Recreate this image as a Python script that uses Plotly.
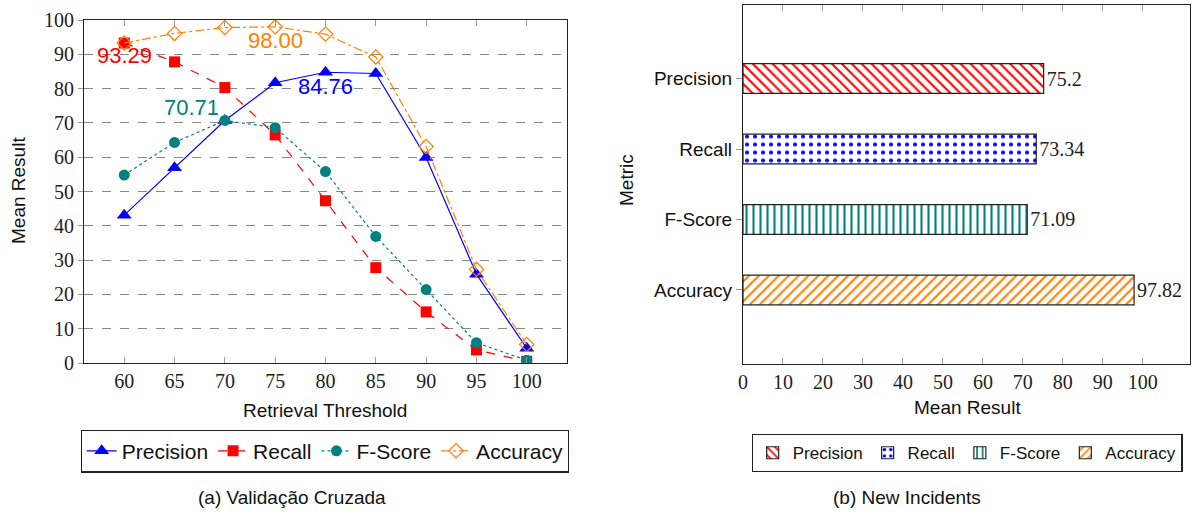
import plotly.graph_objects as go

# ---------------- data ----------------
thresholds = [60, 65, 70, 75, 80, 85, 90, 95, 100]
precision = [43.1, 56.9, 70.71, 81.7, 84.76, 84.4, 59.9, 25.9, 4.3]
recall = [93.29, 87.8, 80.3, 66.5, 47.3, 27.8, 14.9, 3.8, 0.5]
fscore = [54.8, 64.3, 70.71, 68.6, 55.8, 36.9, 21.4, 5.9, 0.8]
accuracy = [93.3, 96.1, 97.8, 98.00, 95.9, 89.2, 63.1, 27.3, 5.4]

metrics = ["Precision", "Recall", "F-Score", "Accuracy"]
new_incidents = [75.2, 73.34, 71.09, 97.82]
new_incidents_text = ["75.2", "73.34", "71.09", "97.82"]

x_ticks = [60, 65, 70, 75, 80, 85, 90, 95, 100]
y_ticks = [0, 10, 20, 30, 40, 50, 60, 70, 80, 90, 100]
bar_ticks = [0, 10, 20, 30, 40, 50, 60, 70, 80, 90, 100]

# ---------------- styles ----------------
BLUE = "#0000ff"
RED = "#ff0000"
TEAL = "#008080"
ORANGE = "#ff8000"
SANS = "Liberation Sans"
SERIF = "Liberation Serif"

W, H = 1192, 516


def px(x):
    return x / W


def py(y):
    return 1 - y / H


fig = go.Figure()

# ---- left: line chart ----
fig.add_trace(go.Scatter(
    x=thresholds, y=precision, name="Precision", mode="lines+markers",
    line=dict(color=BLUE, width=1.2, dash="solid"),
    marker=dict(symbol="triangle-up", size=13, color=BLUE),
    xaxis="x", yaxis="y", legend="legend"))
fig.add_trace(go.Scatter(
    x=thresholds, y=recall, name="Recall", mode="lines+markers",
    line=dict(color=RED, width=1.2, dash="dash"),
    marker=dict(symbol="square", size=11, color=RED),
    xaxis="x", yaxis="y", legend="legend"))
fig.add_trace(go.Scatter(
    x=thresholds, y=fscore, name="F-Score", mode="lines+markers",
    line=dict(color=TEAL, width=1.2, dash="dot"),
    marker=dict(symbol="circle", size=11, color=TEAL),
    xaxis="x", yaxis="y", legend="legend"))
fig.add_trace(go.Scatter(
    x=thresholds, y=accuracy, name="Accuracy", mode="lines+markers",
    line=dict(color=ORANGE, width=1.2, dash="dashdot"),
    marker=dict(symbol="diamond-open", size=11, color=ORANGE, line=dict(width=1.2)),
    xaxis="x", yaxis="y", legend="legend"))

# ---- right: bar chart ----
bar_colors = [RED, BLUE, TEAL, ORANGE]
bar_shapes = ["\\", ".", "|", "/"]
for m, v, t, c, s in zip(metrics, new_incidents, new_incidents_text, bar_colors, bar_shapes):
    fig.add_trace(go.Bar(
        y=[m], x=[v], orientation="h", name=m, width=0.42,
        text=[t], textposition="outside", cliponaxis=False,
        textfont=dict(family=SERIF, size=20, color="#222"),
        marker=dict(color="white", opacity=1, line=dict(color="#222", width=1.2),
                    pattern=dict(shape=s, fgcolor=c, fgopacity=1, bgcolor="white",
                                 size=7 if s != "." else 8,
                                 solidity=0.3 if s != "." else 0.22, fillmode="overlay")),
        xaxis="x2", yaxis="y2", legend="legend2"))

tickfont_serif = dict(family=SERIF, size=20, color="#222")

fig.update_layout(
    width=W, height=H,
    margin=dict(l=0, r=0, t=0, b=0, pad=0, autoexpand=False),
    paper_bgcolor="white", plot_bgcolor="white",
    barmode="overlay",
    showlegend=True,
    xaxis=dict(domain=[px(84), px(567)], range=[56, 104], tickvals=x_ticks,
               ticks="inside", ticklen=6, tickcolor="#999", showline=True, linecolor="#222",
               linewidth=1.2, mirror="ticks", showgrid=False, zeroline=False,
               tickfont=tickfont_serif, anchor="y", automargin=False),
    yaxis=dict(domain=[py(363), py(20)], range=[0, 100], tickvals=y_ticks,
               ticks="outside", ticklen=5, tickcolor="#999", showline=True, linecolor="#222",
               linewidth=1.2, mirror=True, showgrid=True, gridcolor="#888", griddash="dash",
               gridwidth=1, zeroline=False, tickfont=tickfont_serif, anchor="x",
               automargin=False),
    xaxis2=dict(domain=[px(743), px(1190)], range=[0, 111.8], tickvals=bar_ticks,
                ticks="inside", ticklen=6, tickcolor="#999", showline=True, linecolor="#222",
                linewidth=1.2, mirror="ticks", showgrid=False, zeroline=False,
                tickfont=tickfont_serif, anchor="y2", automargin=False),
    yaxis2=dict(domain=[py(364), py(4.5)], range=[-1.05, 4.05],
                categoryorder="array", categoryarray=metrics[::-1],
                ticks="outside", ticklen=6, tickcolor="#999", showline=True, linecolor="#222",
                linewidth=1.2, mirror=True, showgrid=False, zeroline=False,
                tickfont=dict(family=SANS, size=19, color="#111"), anchor="x2",
                automargin=False),
    legend=dict(orientation="h", x=px(325), y=py(451), xanchor="center", yanchor="middle",
                bordercolor="#222", borderwidth=1.2, bgcolor="white",
                font=dict(family=SANS, size=21, color="#111"), itemwidth=30,
                tracegroupgap=0),
    legend2=dict(orientation="h", x=px(967), y=py(453), xanchor="center", yanchor="middle",
                 bordercolor="#222", borderwidth=1.2, bgcolor="white",
                 font=dict(family=SANS, size=17, color="#111"), itemwidth=30,
                 tracegroupgap=0),
)

# value callouts on the line chart, anchored to data points
callouts = [
    (thresholds[0], recall[0], f"{recall[0]:.2f}", RED, 0, -12),
    (thresholds[3], accuracy[3], f"{accuracy[3]:.2f}", ORANGE, 0, -14),
    (thresholds[4], precision[4], f"{precision[4]:.2f}", BLUE, 0, -14),
    (thresholds[2], fscore[2], f"{fscore[2]:.2f}", TEAL, -33, 13),
]
for x, y, t, c, xs, ys in callouts:
    fig.add_annotation(x=x, y=y, xref="x", yref="y", text=t, showarrow=False,
                       xshift=xs, yshift=ys, font=dict(family=SANS, size=22, color=c))

# axis titles and captions
texts = [
    (px(325), py(410), "Retrieval Threshold", 0, 19),
    (px(18), py(191), "Mean Result", -90, 19),
    (px(967), py(407), "Mean Result", 0, 19),
    (px(627), py(180), "Metric", -90, 19),
    (px(292), py(497), "(a) Validação Cruzada", 0, 19),
    (px(907), py(497), "(b) New Incidents", 0, 19),
]
for x, y, t, ang, sz in texts:
    fig.add_annotation(x=x, y=y, xref="paper", yref="paper", text=t, showarrow=False,
                       textangle=ang, xanchor="center", yanchor="middle",
                       font=dict(family=SANS, size=sz, color="#111"))

fig.write_html("out.html", config={"displayModeBar": False},
               post_script="document.body.style.margin='0';document.body.style.overflow='hidden';")
